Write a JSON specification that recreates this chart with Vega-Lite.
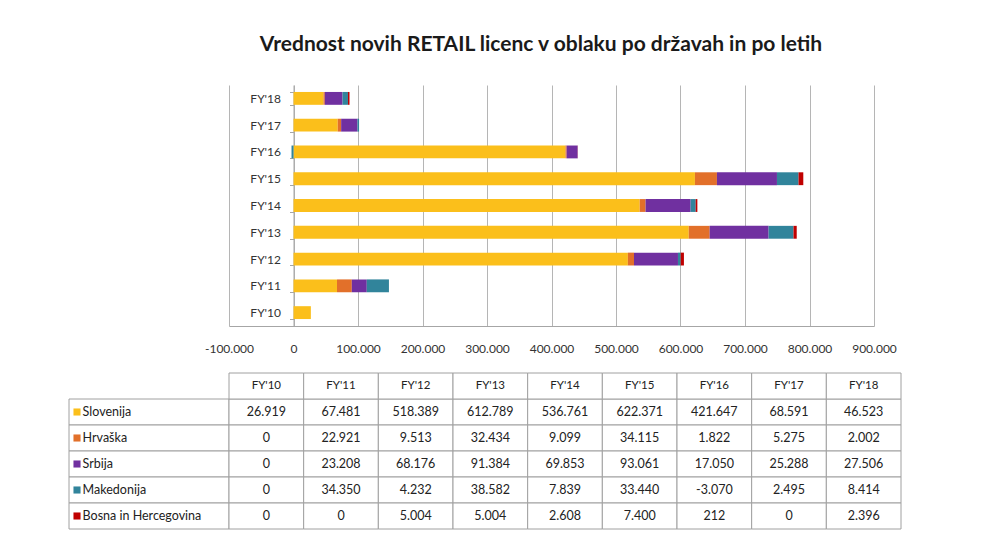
{
  "$schema": "https://vega.github.io/schema/vega-lite/v6.json",
  "background": "white",
  "padding": {"left": 68, "top": 34, "right": 5, "bottom": 5},
  "config": {
    "locale": {"number": {"decimal": ",", "thousands": ".", "grouping": [3], "currency": ["", " €"], "minus": "-"}},
    "view": {"stroke": null},
    "font": "Lato",
    "title": {"font": "Lato", "fontSize": 21, "fontWeight": "bold", "color": "#1a1a1a"}
  },
  "title": {"text": "Vrednost novih RETAIL licenc v oblaku po državah in po letih", "anchor": "middle", "dx": 56, "offset": 24},
  "datasets": {
    "bars": [
      {"year": "FY'10", "country": "Slovenija", "value": 26919},
      {"year": "FY'11", "country": "Slovenija", "value": 67481},
      {"year": "FY'12", "country": "Slovenija", "value": 518389},
      {"year": "FY'13", "country": "Slovenija", "value": 612789},
      {"year": "FY'14", "country": "Slovenija", "value": 536761},
      {"year": "FY'15", "country": "Slovenija", "value": 622371},
      {"year": "FY'16", "country": "Slovenija", "value": 421647},
      {"year": "FY'17", "country": "Slovenija", "value": 68591},
      {"year": "FY'18", "country": "Slovenija", "value": 46523},
      {"year": "FY'10", "country": "Hrvaška", "value": 0},
      {"year": "FY'11", "country": "Hrvaška", "value": 22921},
      {"year": "FY'12", "country": "Hrvaška", "value": 9513},
      {"year": "FY'13", "country": "Hrvaška", "value": 32434},
      {"year": "FY'14", "country": "Hrvaška", "value": 9099},
      {"year": "FY'15", "country": "Hrvaška", "value": 34115},
      {"year": "FY'16", "country": "Hrvaška", "value": 1822},
      {"year": "FY'17", "country": "Hrvaška", "value": 5275},
      {"year": "FY'18", "country": "Hrvaška", "value": 2002},
      {"year": "FY'10", "country": "Srbija", "value": 0},
      {"year": "FY'11", "country": "Srbija", "value": 23208},
      {"year": "FY'12", "country": "Srbija", "value": 68176},
      {"year": "FY'13", "country": "Srbija", "value": 91384},
      {"year": "FY'14", "country": "Srbija", "value": 69853},
      {"year": "FY'15", "country": "Srbija", "value": 93061},
      {"year": "FY'16", "country": "Srbija", "value": 17050},
      {"year": "FY'17", "country": "Srbija", "value": 25288},
      {"year": "FY'18", "country": "Srbija", "value": 27506},
      {"year": "FY'10", "country": "Makedonija", "value": 0},
      {"year": "FY'11", "country": "Makedonija", "value": 34350},
      {"year": "FY'12", "country": "Makedonija", "value": 4232},
      {"year": "FY'13", "country": "Makedonija", "value": 38582},
      {"year": "FY'14", "country": "Makedonija", "value": 7839},
      {"year": "FY'15", "country": "Makedonija", "value": 33440},
      {"year": "FY'16", "country": "Makedonija", "value": -3070},
      {"year": "FY'17", "country": "Makedonija", "value": 2495},
      {"year": "FY'18", "country": "Makedonija", "value": 8414},
      {"year": "FY'10", "country": "Bosna in Hercegovina", "value": 0},
      {"year": "FY'11", "country": "Bosna in Hercegovina", "value": 0},
      {"year": "FY'12", "country": "Bosna in Hercegovina", "value": 5004},
      {"year": "FY'13", "country": "Bosna in Hercegovina", "value": 5004},
      {"year": "FY'14", "country": "Bosna in Hercegovina", "value": 2608},
      {"year": "FY'15", "country": "Bosna in Hercegovina", "value": 7400},
      {"year": "FY'16", "country": "Bosna in Hercegovina", "value": 212},
      {"year": "FY'17", "country": "Bosna in Hercegovina", "value": 0},
      {"year": "FY'18", "country": "Bosna in Hercegovina", "value": 2396}
    ],
    "years": [
      {"year": "FY'10"}, {"year": "FY'11"}, {"year": "FY'12"}, {"year": "FY'13"}, {"year": "FY'14"},
      {"year": "FY'15"}, {"year": "FY'16"}, {"year": "FY'17"}, {"year": "FY'18"}
    ],
    "series": [
      {"country": "Slovenija"}, {"country": "Hrvaška"}, {"country": "Srbija"}, {"country": "Makedonija"}, {"country": "Bosna in Hercegovina"}
    ]
  },
  "columns": 2,
  "bounds": "flush",
  "spacing": {"row": 47, "column": 0},
  "resolve": {"scale": {"x": "independent", "y": "independent"}},
  "concat": [
    {
      "width": 160, "height": 241,
      "data": {"values": [{}]},
      "mark": {"type": "text"},
      "encoding": {"text": {"value": ""}}
    },
    {
      "width": 645, "height": 241,
      "data": {"name": "bars"},
      "transform": [
        {"calculate": "indexof(['Slovenija', 'Hrvaška', 'Srbija', 'Makedonija', 'Bosna in Hercegovina'], datum.country)", "as": "stackOrder"}
      ],
      "mark": {"type": "bar"},
      "encoding": {
        "y": {
          "field": "year", "type": "nominal", "sort": "descending",
          "scale": {"paddingInner": 0.52, "paddingOuter": 0.26},
          "axis": {"title": null, "offset": -64.5, "domainColor": "#A6A6A6", "tickColor": "#A6A6A6", "tickBand": "extent", "tickSize": 4, "labelPadding": 9, "labelFontSize": 12, "labelColor": "#333333", "grid": false}
        },
        "x": {
          "field": "value", "type": "quantitative", "stack": "zero",
          "scale": {"domain": [-100000, 900000], "nice": false, "zero": false},
          "axis": {"title": null, "values": [-100000, 0, 100000, 200000, 300000, 400000, 500000, 600000, 700000, 800000, 900000], "format": ",d", "grid": true, "gridColor": "#B5B5B5", "domainColor": "#A6A6A6", "ticks": false, "labelPadding": 17, "labelFontSize": 12, "labelColor": "#333333", "labelFlush": false, "labelOverlap": false}
        },
        "color": {
          "field": "country", "type": "nominal",
          "scale": {"domain": ["Slovenija", "Hrvaška", "Srbija", "Makedonija", "Bosna in Hercegovina"], "range": ["#FBBF1B", "#E2702A", "#7030A0", "#31849B", "#C00000"]},
          "legend": null
        },
        "order": {"field": "stackOrder", "type": "quantitative", "sort": "ascending"}
      }
    },
    {
      "width": 160, "height": 156,
      "data": {"name": "series"},
      "layer": [
        {
          "mark": {"type": "rect", "fill": "white", "stroke": "#A0A0A0", "strokeWidth": 1},
          "encoding": {
            "y": {"field": "country", "type": "nominal", "scale": {"domain": ["hdr", "Slovenija", "Hrvaška", "Srbija", "Makedonija", "Bosna in Hercegovina"], "padding": 0}, "axis": null},
            "x": {"datum": 0, "type": "quantitative", "scale": {"domain": [0, 1], "nice": false}, "axis": null},
            "x2": {"datum": 1}
          }
        },
        {
          "mark": {"type": "square", "size": 50, "filled": true, "opacity": 1},
          "encoding": {
            "y": {"field": "country", "type": "nominal"},
            "x": {"datum": 0.05, "type": "quantitative"},
            "color": {
              "field": "country", "type": "nominal",
              "scale": {"domain": ["Slovenija", "Hrvaška", "Srbija", "Makedonija", "Bosna in Hercegovina"], "range": ["#FBBF1B", "#E2702A", "#7030A0", "#31849B", "#C00000"]},
              "legend": null
            }
          }
        },
        {
          "mark": {"type": "text", "align": "left", "fontSize": 12.5, "color": "#222222"},
          "encoding": {
            "y": {"field": "country", "type": "nominal"},
            "x": {"datum": 0.085, "type": "quantitative"},
            "text": {"field": "country"}
          }
        }
      ]
    },
    {
      "width": 672, "height": 156,
      "layer": [
        {
          "data": {"name": "bars"},
          "mark": {"type": "rect", "fill": "white", "stroke": "#A0A0A0", "strokeWidth": 1},
          "encoding": {
            "x": {"field": "year", "type": "nominal", "scale": {"domain": ["FY'10", "FY'11", "FY'12", "FY'13", "FY'14", "FY'15", "FY'16", "FY'17", "FY'18"], "paddingInner": 0, "paddingOuter": 0}, "axis": null},
            "y": {"field": "country", "type": "nominal", "scale": {"domain": ["hdr", "Slovenija", "Hrvaška", "Srbija", "Makedonija", "Bosna in Hercegovina"], "padding": 0}, "axis": null}
          }
        },
        {
          "data": {"name": "years"},
          "mark": {"type": "rect", "fill": "white", "stroke": "#A0A0A0", "strokeWidth": 1},
          "encoding": {
            "x": {"field": "year", "type": "nominal"},
            "y": {"datum": "hdr"}
          }
        },
        {
          "data": {"name": "bars"},
          "mark": {"type": "text", "fontSize": 12.5, "color": "#222222"},
          "encoding": {
            "x": {"field": "year", "type": "nominal"},
            "y": {"field": "country", "type": "nominal"},
            "text": {"field": "value", "type": "quantitative", "format": ",d"}
          }
        },
        {
          "data": {"name": "years"},
          "mark": {"type": "text", "fontSize": 11.5, "color": "#222222"},
          "encoding": {
            "x": {"field": "year", "type": "nominal"},
            "y": {"datum": "hdr"},
            "text": {"field": "year"}
          }
        }
      ]
    }
  ]
}
